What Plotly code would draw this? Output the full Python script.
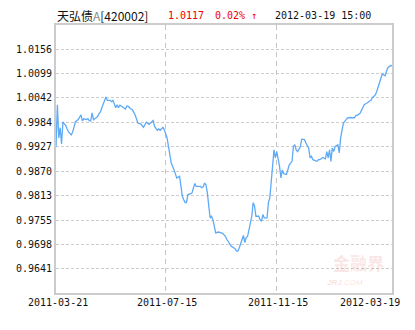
import plotly.graph_objects as go

# trading-day index (0 = 2011-03-21, 242 = 2012-03-19) and unit NAV
day_idx = [0, 1, 2, 3, 4, 5, 6, 7, 8, 9, 11, 12, 13, 14, 16, 17, 18, 19, 20, 22,
           23, 24, 25, 26, 27, 28, 30, 31, 32, 33, 34, 35, 36, 37, 39, 40, 41, 42, 43, 44,
           45, 46, 47, 48, 50, 51, 52, 54, 55, 57, 58, 59, 61, 63, 64, 65, 67, 68, 70, 71,
           73, 74, 75, 77, 78, 80, 81, 82, 83, 85, 86, 87, 88, 89, 90, 91, 92, 93, 94, 95,
           97, 98, 99, 100, 101, 102, 104, 105, 106, 107, 108, 109, 110, 111, 112, 113, 114, 115, 117, 118,
           119, 120, 122, 123, 124, 125, 126, 128, 129, 130, 131, 132, 134, 135, 136, 137, 138, 140, 141, 142,
           143, 144, 146, 147, 148, 149, 150, 152, 153, 154, 155, 156, 157, 158, 159, 161, 162, 163, 164, 166,
           167, 168, 170, 171, 172, 173, 174, 176, 177, 178, 179, 180, 182, 183, 184, 185, 186, 188, 189, 190,
           191, 192, 194, 195, 196, 197, 198, 199, 200, 201, 203, 204, 205, 207, 208, 209, 210, 212, 213, 215,
           216, 217, 219, 220, 221, 222, 224, 225, 227, 228, 230, 231, 232, 233, 234, 235, 236, 237, 238, 239,
           241, 242]
nav = [0.9927, 1.0026, 0.9948, 0.9972, 0.9934, 0.9986, 0.9981, 0.9977, 0.9969, 0.9962,
       0.9955, 0.9962, 0.9974, 0.9986, 0.9991, 0.9998, 1.0002, 0.9988, 0.9993, 0.9991,
       0.9993, 0.9988, 0.9988, 1.0007, 0.9991, 0.9993, 0.9998, 1.0005, 1.0009, 1.0019,
       1.0026, 1.0037, 1.0044, 1.0036, 1.0036, 1.0033, 1.0036, 1.0028, 1.0019, 1.0026,
       1.0019, 1.0025, 1.0023, 1.0022, 1.0016, 1.0023, 1.0022, 1.0016, 1.0014, 1.0002,
       0.9991, 0.9983, 0.9981, 0.9973, 0.9979, 0.9985, 0.9980, 0.9983, 0.9989, 0.9975,
       0.9966, 0.9969, 0.9966, 0.9973, 0.9967, 0.9948, 0.9928, 0.9905, 0.9889, 0.9873,
       0.9862, 0.9854, 0.9856, 0.9858, 0.9834, 0.9811, 0.9803, 0.9796, 0.9796, 0.9815,
       0.9817, 0.9819, 0.9831, 0.9841, 0.9834, 0.9834, 0.9834, 0.9831, 0.9833, 0.9842,
       0.9838, 0.9819, 0.9788, 0.9760, 0.9764, 0.9756, 0.9741, 0.9725, 0.9727, 0.9725,
       0.9725, 0.9724, 0.9717, 0.9710, 0.9706, 0.9700, 0.9694, 0.9690, 0.9688, 0.9682,
       0.9682, 0.9690, 0.9710, 0.9719, 0.9702, 0.9714, 0.9717, 0.9745, 0.9764, 0.9796,
       0.9788, 0.9764, 0.9764, 0.9756, 0.9752, 0.9768, 0.9760, 0.9760, 0.9796, 0.9807,
       0.9850, 0.9889, 0.9920, 0.9901, 0.9916, 0.9881, 0.9854, 0.9873, 0.9864, 0.9862,
       0.9873, 0.9885, 0.9893, 0.9928, 0.9932, 0.9920, 0.9916, 0.9928, 0.9945, 0.9945,
       0.9944, 0.9936, 0.9924, 0.9901, 0.9905, 0.9897, 0.9896, 0.9893, 0.9897, 0.9897,
       0.9899, 0.9902, 0.9899, 0.9916, 0.9901, 0.9920, 0.9893, 0.9924, 0.9916, 0.9928,
       0.9932, 0.9913, 0.9948, 0.9983, 0.9987, 0.9991, 0.9995, 0.9996, 0.9996, 0.9995,
       1.0001, 1.0001, 1.0006, 1.0012, 1.0018, 1.0026, 1.0030, 1.0032, 1.0037, 1.0043,
       1.0049, 1.0057, 1.0069, 1.0080, 1.0088, 1.0098, 1.0096, 1.0094, 1.0104, 1.0113,
       1.0118, 1.0117]

y_ticks = [1.0156, 1.0099, 1.0042, 0.9984, 0.9927, 0.9870, 0.9813, 0.9755, 0.9698, 0.9641]
y_tick_text = ["1.0156", "1.0099", "1.0042", "0.9984", "0.9927",
               "0.9870", "0.9813", "0.9755", "0.9698", "0.9641"]
x_tick_idx = [0, 79, 159, 242]
x_tick_text = ["2011-03-21", "2011-07-15", "2011-11-15", "2012-03-19"]

fund_name = "天弘债<span style='color:#888888'>A</span>[420002]"
last_nav = "1.0117"
change = "0.02% ↑"
stamp = "2012-03-19 15:00"

step = (y_ticks[0] - y_ticks[-1]) / (len(y_ticks) - 1)
y_range = [y_ticks[-1] - step, y_ticks[0] + step]

MONO = "DejaVu Sans Mono"

fig = go.Figure()
fig.add_trace(go.Scatter(x=day_idx, y=nav, mode="lines",
                         line=dict(color="#5eaaf7", width=1.3), hoverinfo="skip"))

fig.update_layout(
    width=415, height=330,
    margin=dict(l=56, r=23, t=25, b=37),
    paper_bgcolor="white", plot_bgcolor="white",
    showlegend=False,
    xaxis=dict(range=[0, 242], tickvals=x_tick_idx[1:3], showticklabels=False,
               showgrid=True, gridcolor="#c4c4c4", griddash="5px,4px", gridwidth=1,
               zeroline=False, showline=True, mirror=True, linecolor="#cccccc", linewidth=2,
               ticks=""),
    yaxis=dict(range=y_range, tickvals=y_ticks, ticktext=y_tick_text,
               showgrid=True, gridcolor="#cccccc", griddash="3px,2px", gridwidth=1,
               zeroline=False, showline=True, mirror=True, linecolor="#cccccc", linewidth=2,
               ticks="", tickfont=dict(family=MONO, size=10, color="#111111")),
)

ann = []
# x-axis labels
shifts = [2, 1, 1, 10]
anchors = ["center", "center", "center", "right"]
for xi, txt, sh, an in zip(x_tick_idx, x_tick_text, shifts, anchors):
    ann.append(dict(x=xi, y=-0.0373, xref="x", yref="paper", text=txt, showarrow=False,
                    xanchor=an, yanchor="middle", xshift=sh,
                    font=dict(family=MONO, size=10, color="#111111")))
# header
ann.append(dict(x=-0.003, y=1.037, xref="paper", yref="paper", text=fund_name, showarrow=False,
                xanchor="left", yanchor="middle",
                font=dict(family="Noto Sans CJK SC", size=12, color="#111111")))
ann.append(dict(x=0.3274, y=1.037, xref="paper", yref="paper", text=last_nav, showarrow=False,
                xanchor="left", yanchor="middle", font=dict(family=MONO, size=10, color="#ee0000")))
ann.append(dict(x=0.4673, y=1.037, xref="paper", yref="paper", text=change, showarrow=False,
                xanchor="left", yanchor="middle", font=dict(family=MONO, size=10, color="#ee0000")))
ann.append(dict(x=0.6458, y=1.037, xref="paper", yref="paper", text=stamp, showarrow=False,
                xanchor="left", yanchor="middle", font=dict(family=MONO, size=10, color="#111111")))
# watermark
ann.append(dict(x=0.90, y=0.115, xref="paper", yref="paper", text="<b>金融界</b>", showarrow=False,
                xanchor="center", yanchor="middle",
                font=dict(family="Noto Sans CJK SC", size=17, color="rgba(220,60,60,0.14)")))
ann.append(dict(x=0.86, y=0.04, xref="paper", yref="paper", text="<i><b>JRJ</b>.COM</i>", showarrow=False,
                xanchor="center", yanchor="middle",
                font=dict(family="Liberation Sans", size=8, color="rgba(220,60,60,0.16)")))
fig.update_layout(annotations=ann)

fig.write_html("out.html")
